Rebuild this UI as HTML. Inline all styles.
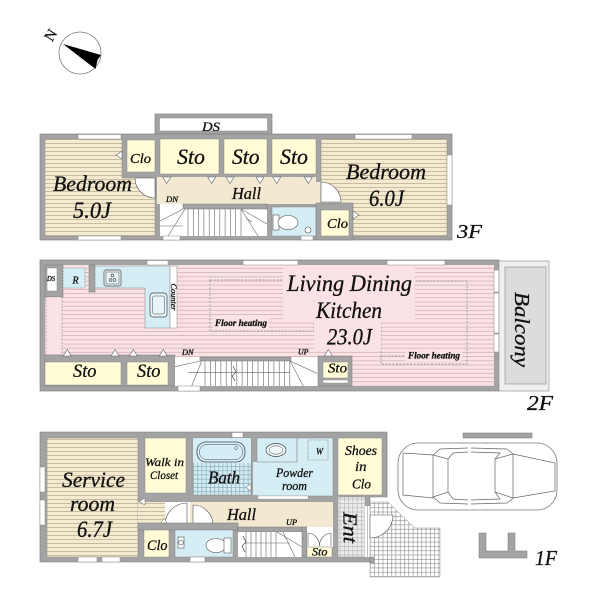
<!DOCTYPE html>
<html><head><meta charset="utf-8">
<style>
html,body{margin:0;padding:0;background:#fff;width:600px;height:600px;overflow:hidden}
svg{display:block}
text{font-family:"Liberation Serif","DejaVu Serif",serif;font-style:italic;fill:#111;stroke:#111;stroke-width:.3px}
</style></head><body>
<svg width="600" height="600" viewBox="0 0 600 600" xmlns="http://www.w3.org/2000/svg">
<defs>
<pattern id="bd" width="8" height="4" patternUnits="userSpaceOnUse"><rect width="8" height="4" fill="#f4eacf"/><rect y="3.2" width="8" height="0.8" fill="#bdb197"/></pattern>
<pattern id="pk" width="8" height="4.2" patternUnits="userSpaceOnUse"><rect width="8" height="4.2" fill="#fbe2e5"/><rect y="3.4" width="8" height="0.8" fill="#d2b3b8"/></pattern>
<pattern id="tl" width="4.2" height="4.2" patternUnits="userSpaceOnUse"><rect width="4.2" height="4.2" fill="#d4edf4"/><path d="M0 .3H4.2M.3 0V4.2" stroke="#7ea3ad" stroke-width=".6"/></pattern>
<pattern id="gr" width="4.3" height="4.3" patternUnits="userSpaceOnUse"><rect width="4.3" height="4.3" fill="#fff"/><path d="M0 .3H4.3M.3 0V4.3" stroke="#8c8c8c" stroke-width=".6"/></pattern>
<pattern id="eg" width="4.3" height="4.3" patternUnits="userSpaceOnUse"><rect width="4.3" height="4.3" fill="#ececec"/><path d="M0 .3H4.3M.3 0V4.3" stroke="#b3b3b3" stroke-width=".6"/></pattern>
</defs>

<!-- Compass -->
<circle cx="80" cy="53" r="21" fill="#fff" stroke="#777" stroke-width=".8"/>
<polygon points="63,44 101,55 97.5,60 95.5,69" fill="#000"/>
<text transform="translate(52,36) rotate(-58)" font-size="15" text-anchor="middle" dominant-baseline="middle" style="font-style:normal">N</text>

<!-- ============ 3F ============ -->
<g fill="#a3a3a3" stroke="#777" stroke-width=".6">
<rect x="155" y="114" width="117" height="24"/>
<rect x="40" y="134" width="412" height="106"/>
</g>
<rect x="159.5" y="118" width="108" height="13" fill="#fff" stroke="#888" stroke-width=".5"/>
<path d="M45,139H122V178H155V236H45Z" fill="url(#bd)" stroke="#888" stroke-width=".5"/>
<g fill="#fffcd6" stroke="#888" stroke-width=".5">
<rect x="127" y="140" width="28" height="32"/>
<rect x="160" y="139" width="59" height="35"/>
<rect x="224" y="139" width="43" height="35"/>
<rect x="272" y="139" width="44" height="35"/>
</g>
<rect x="157" y="177" width="159" height="27" fill="#f3e9d1"/>
<rect x="316" y="182" width="5" height="21" fill="#f3e9d1"/>
<path d="M155,178H135A20,20 0 0 0 155,198Z" fill="#fff" stroke="#555" stroke-width=".6"/>
<rect x="160" y="204" width="107" height="32" fill="#fff"/>
<rect x="183" y="204" width="84" height="5" fill="#a3a3a3" stroke="#777" stroke-width=".5"/>
<g stroke="#666" stroke-width=".6" fill="none">
<path d="M160,221L183,209M168,236L185,209M160,226H183"/>
<path d="M188,209V236M193.3,209V236M198.6,209V236M203.9,209V236M209.2,209V236M214.5,209V236M219.8,209V236M225.1,209V236M230.4,209V236M235.7,209V236M241,209V236"/>
<path d="M241,209L267,224M241,209L258,236M246,218L252,222"/>
</g>
<rect x="272" y="207" width="44" height="29" fill="#d5eef5" stroke="#888" stroke-width=".5"/>
<rect x="273" y="215" width="6" height="15" fill="#fff" stroke="#555" stroke-width=".6"/>
<ellipse cx="288" cy="222.5" rx="10" ry="7" fill="#fff" stroke="#555" stroke-width=".6"/>
<circle cx="308" cy="230" r="3" fill="#fff" stroke="#555" stroke-width=".6"/>
<rect x="321" y="139" width="126" height="97" fill="url(#bd)" stroke="#888" stroke-width=".5"/>
<path d="M321,202V182A20,20 0 0 1 341,202Z" fill="#fff" stroke="#555" stroke-width=".6"/>
<rect x="316" y="203" width="37" height="37" fill="#a3a3a3" stroke="#777" stroke-width=".5"/>
<rect x="321" y="210" width="28" height="26" fill="#fffcd6" stroke="#888" stroke-width=".5"/>
<g fill="#fff" stroke="#666" stroke-width=".6">
<polygon points="162.7,177 170.7,177 166.7,183.5"/>
<polygon points="207.7,177 215.7,177 211.7,183.5"/>
<polygon points="226,177 234,177 230,183.5"/>
<polygon points="256,177 264,177 260,183.5"/>
<polygon points="272.7,177 280.7,177 276.7,183.5"/>
<polygon points="304.3,177 312.3,177 308.3,183.5"/>
<polygon points="122,151 122,159 116,155"/>
<polygon points="353,211 353,219 359,215"/>
</g>
<g fill="#fff" stroke="#8a8a8a" stroke-width=".5">
<rect x="78" y="134.5" width="43" height="4.5"/>
<rect x="78" y="236" width="43" height="4"/>
<rect x="163" y="236" width="17" height="4"/>
<rect x="301" y="236" width="12" height="4"/>
<rect x="355" y="134.5" width="57" height="4.5"/>
<rect x="447" y="155" width="5" height="50"/>
</g>
<text x="202" y="131" font-size="13" textLength="18" lengthAdjust="spacingAndGlyphs">DS</text>
<text x="130" y="163" font-size="14" textLength="21" lengthAdjust="spacingAndGlyphs">Clo</text>
<text x="177" y="164" font-size="22" textLength="28" lengthAdjust="spacingAndGlyphs">Sto</text>
<text x="232" y="164" font-size="22" textLength="27.5" lengthAdjust="spacingAndGlyphs">Sto</text>
<text x="280" y="164" font-size="22" textLength="28" lengthAdjust="spacingAndGlyphs">Sto</text>
<text x="232" y="199" font-size="17" textLength="29" lengthAdjust="spacingAndGlyphs">Hall</text>
<text x="166" y="202" font-size="8" textLength="12" lengthAdjust="spacingAndGlyphs">DN</text>
<text x="53" y="191" font-size="22" textLength="79" lengthAdjust="spacingAndGlyphs">Bedroom</text>
<text x="73" y="218" font-size="23" textLength="38" lengthAdjust="spacingAndGlyphs">5.0J</text>
<text x="346" y="179" font-size="22" textLength="80" lengthAdjust="spacingAndGlyphs">Bedroom</text>
<text x="369" y="206" font-size="23" textLength="35" lengthAdjust="spacingAndGlyphs">6.0J</text>
<text x="327" y="228" font-size="14" textLength="21" lengthAdjust="spacingAndGlyphs">Clo</text>
<text x="457" y="238" font-size="20" textLength="25" lengthAdjust="spacingAndGlyphs">3F</text>

<!-- ============ 2F ============ -->
<rect x="40" y="260" width="459" height="131" fill="#a3a3a3" stroke="#777" stroke-width=".6"/>
<rect x="45" y="265" width="449" height="121" fill="url(#pk)"/>
<g fill="none" stroke="#8a8a8a" stroke-width=".7" stroke-dasharray="2,1.5">
<rect x="210" y="280" width="104" height="51"/>
<rect x="381" y="281" width="86" height="83"/>
</g>
<path d="M283,266H415V322H381V350H314V322H283Z" fill="#fbe2e5"/>
<rect x="213" y="318" width="56" height="10" fill="#fbe2e5"/>
<rect x="405" y="351" width="57" height="10" fill="#fbe2e5"/>
<path d="M381,356H405" stroke="#8a8a8a" stroke-width=".7" stroke-dasharray="2,1.5"/>
<rect x="45" y="265" width="18" height="32" fill="#a3a3a3" stroke="#777" stroke-width=".5"/>
<rect x="47" y="268" width="10" height="23" fill="#fff" stroke="#888" stroke-width=".5"/>
<rect x="89" y="265" width="6" height="27" fill="#a3a3a3" stroke="#777" stroke-width=".5"/>
<rect x="63" y="268" width="22" height="20" fill="#d5eef5" stroke="#777" stroke-width=".6" stroke-dasharray="2,1.2"/>
<path d="M95,266H170V328H145V288H95Z" fill="#d5eef5" stroke="#888" stroke-width=".5"/>
<rect x="170" y="266" width="7" height="62" fill="#fff" stroke="#888" stroke-width=".5"/>
<rect x="104" y="270" width="17" height="16" rx="2" fill="#e8f5f8" stroke="#444" stroke-width=".7"/>
<rect x="106" y="272" width="13" height="12" fill="none" stroke="#444" stroke-width=".5"/>
<g fill="none" stroke="#333" stroke-width=".6"><circle cx="112.5" cy="275.5" r="1.4"/><circle cx="110.5" cy="280" r="1.4"/><circle cx="114.5" cy="280" r="1.4"/></g>
<rect x="150" y="293" width="17" height="24" rx="3" fill="#e8f5f8" stroke="#444" stroke-width=".7"/>
<rect x="152.5" y="296" width="12" height="18" rx="2" fill="none" stroke="#444" stroke-width=".5"/>
<rect x="46" y="297" width="16" height="58" fill="#fbe2e5" stroke="#8a8a8a" stroke-width=".6" stroke-dasharray="2,1.2"/>
<rect x="45" y="355" width="130" height="31" fill="#a3a3a3" stroke="#777" stroke-width=".5"/>
<rect x="45" y="362" width="76" height="23" fill="#fffcd6" stroke="#888" stroke-width=".5"/>
<rect x="127" y="362" width="41" height="23" fill="#fffcd6" stroke="#888" stroke-width=".5"/>
<rect x="175" y="357" width="143" height="29" fill="#fff"/>
<rect x="200" y="357" width="91" height="4" fill="#a3a3a3" stroke="#777" stroke-width=".5"/>
<g stroke="#666" stroke-width=".6" fill="none">
<path d="M175,366.7L200.7,361M191.7,386L201.7,361M188,372.7H290"/>
<path d="M205,361V386M210.3,361V386M215.6,361V386M220.9,361V386M226.2,361V386M231.5,361V386M236.8,361V386M242.1,361V386M247.4,361V386M252.7,361V386M258,361V386M263.3,361V386M268.6,361V386M273.9,361V386M279.2,361V386M284.5,361V386M289.8,361V386"/>
<path d="M290,361L317,373.3M290,361L303.3,386"/>
<path d="M233,366L236,372L232,376L235,381" stroke="#333"/>
</g>
<rect x="318" y="356" width="34" height="30" fill="#a3a3a3" stroke="#777" stroke-width=".5"/>
<rect x="323" y="362" width="25" height="16" fill="#fffcd6" stroke="#888" stroke-width=".5"/>
<rect x="323" y="380" width="25" height="3" fill="#fff" stroke="#888" stroke-width=".4"/>
<g fill="#fff" stroke="#666" stroke-width=".6">
<polygon points="63.3,356 71.3,356 67.3,349.5"/>
<polygon points="111,356 119,356 115,349.5"/>
<polygon points="129.3,356 137.3,356 133.3,349.5"/>
<polygon points="159.3,356 167.3,356 163.3,349.5"/>
<polygon points="324.3,356 332.3,356 328.3,349.5"/>
</g>
<g fill="#fff" stroke="#8a8a8a" stroke-width=".5">
<rect x="147" y="260.5" width="21" height="4.5"/>
<rect x="243" y="260.5" width="55" height="4.5"/>
<rect x="387" y="260.5" width="58" height="4.5"/>
<rect x="494" y="270" width="5" height="22"/>
<rect x="494" y="293" width="5" height="40"/>
<rect x="494" y="334" width="5" height="18"/>
<rect x="178" y="386" width="22" height="5"/>
</g>
<rect x="499" y="261" width="50" height="130" fill="#efefef" stroke="#999" stroke-width=".7"/>
<rect x="505" y="267" width="41" height="117" fill="#dcdcdc" stroke="#999" stroke-width=".7"/>
<text x="47" y="281" font-size="7" textLength="8" lengthAdjust="spacingAndGlyphs">DS</text>
<text x="72.5" y="283.5" font-size="10" textLength="6" lengthAdjust="spacingAndGlyphs">R</text>
<text transform="translate(171,297) rotate(90)" font-size="8" text-anchor="middle" textLength="27" lengthAdjust="spacingAndGlyphs">Counter</text>
<text x="215" y="326" font-size="9" font-weight="bold" textLength="52" lengthAdjust="spacingAndGlyphs">Floor heating</text>
<text x="408" y="358.5" font-size="9" font-weight="bold" textLength="52" lengthAdjust="spacingAndGlyphs">Floor heating</text>
<text x="287" y="291" font-size="23" textLength="125" lengthAdjust="spacingAndGlyphs">Living Dining</text>
<text x="316" y="318" font-size="23" textLength="66" lengthAdjust="spacingAndGlyphs">Kitchen</text>
<text x="327" y="344.5" font-size="23" textLength="45" lengthAdjust="spacingAndGlyphs">23.0J</text>
<text x="328" y="372.5" font-size="14" textLength="19" lengthAdjust="spacingAndGlyphs">Sto</text>
<text x="298" y="354.5" font-size="8" textLength="10.5" lengthAdjust="spacingAndGlyphs">UP</text>
<text x="182" y="355" font-size="8" textLength="11.5" lengthAdjust="spacingAndGlyphs">DN</text>
<text x="73" y="377" font-size="19" textLength="23.5" lengthAdjust="spacingAndGlyphs">Sto</text>
<text x="137" y="377" font-size="19" textLength="23.5" lengthAdjust="spacingAndGlyphs">Sto</text>
<text transform="translate(515,329.5) rotate(90)" font-size="21" text-anchor="middle" textLength="75" lengthAdjust="spacingAndGlyphs">Balcony</text>
<text x="527" y="410" font-size="21" textLength="26" lengthAdjust="spacingAndGlyphs">2F</text>

<!-- ============ 1F ============ -->
<path d="M40,432H387V497H370V562H40Z" fill="#a3a3a3" stroke="#777" stroke-width=".6"/>
<rect x="47" y="438" width="91" height="119" fill="url(#bd)" stroke="#888" stroke-width=".5"/>
<rect x="138" y="502" width="27" height="21" fill="url(#bd)"/>
<rect x="145" y="438" width="41" height="55" fill="#fffcd6" stroke="#888" stroke-width=".5"/>
<rect x="144" y="528" width="25" height="29" fill="#fffcd6" stroke="#888" stroke-width=".5"/>
<rect x="165" y="502" width="25" height="21" fill="#fff"/>
<path d="M187,525V503A22,22 0 0 0 165,525Z" fill="#fff" stroke="#555" stroke-width=".6"/>
<rect x="190" y="502" width="143" height="25" fill="#f3e9d1"/>
<path d="M193,525V505A20,20 0 0 1 213,525Z" fill="#fff" stroke="#555" stroke-width=".6"/>
<rect x="138" y="523" width="100" height="7" fill="#a3a3a3" stroke="#777" stroke-width=".5"/>
<rect x="175" y="530" width="58" height="27" fill="#d5eef5" stroke="#888" stroke-width=".5"/>
<rect x="178" y="537" width="6" height="11" fill="#fff" stroke="#555" stroke-width=".6"/>
<circle cx="181" cy="542.5" r="2.3" fill="none" stroke="#555" stroke-width=".6"/>
<ellipse cx="216" cy="545.5" rx="10" ry="7" fill="#fff" stroke="#555" stroke-width=".6"/>
<rect x="224" y="538" width="7" height="15" fill="#fff" stroke="#555" stroke-width=".6"/>
<rect x="238" y="527" width="64" height="5" fill="#a3a3a3" stroke="#777" stroke-width=".5"/>
<rect x="238" y="532" width="64" height="25" fill="#fff"/>
<g stroke="#666" stroke-width=".6" fill="none">
<path d="M246,532V557M251,532V557M256,532V557M261,532V557M266,532V557M271,532V557M276,532V557"/>
<path d="M277,532L302,547M283,532L295,557M245,543H290"/>
<path d="M243,536L246,542L242,546L245,552" stroke="#333"/>
</g>
<rect x="302" y="527" width="5" height="30" fill="#a3a3a3" stroke="#777" stroke-width=".5"/>
<rect x="307" y="527" width="26" height="20" fill="#fff"/>
<path d="M308,546V533A12,13 0 0 1 319.5,546M331,546V533A12,13 0 0 0 319.5,546" fill="none" stroke="#555" stroke-width=".6"/>
<rect x="307" y="547" width="25" height="10" fill="#fffcd6" stroke="#888" stroke-width=".5"/>
<rect x="193" y="438" width="58" height="57" fill="url(#tl)" stroke="#888" stroke-width=".5"/>
<rect x="193" y="438" width="58" height="25" fill="#d5eef5"/>
<rect x="197" y="442" width="48" height="20" rx="9" fill="#d5eef5" stroke="#445" stroke-width=".8"/>
<rect x="199.5" y="444.5" width="43" height="15" rx="7" fill="none" stroke="#445" stroke-width=".5"/>
<circle cx="236" cy="448" r="1.5" fill="none" stroke="#445" stroke-width=".5"/>
<polygon points="251,484 251,491 246,487.5" fill="#fff" stroke="#666" stroke-width=".5"/>
<rect x="257" y="438" width="76" height="58" fill="#d5eef5" stroke="#888" stroke-width=".5"/>
<rect x="253" y="462" width="5" height="33" fill="#d5eef5"/>
<path d="M257,462H297V438" fill="none" stroke="#777" stroke-width=".6"/>
<ellipse cx="276" cy="450" rx="10" ry="6.5" fill="#eef8fb" stroke="#444" stroke-width=".7"/>
<ellipse cx="276" cy="450" rx="7" ry="4.2" fill="none" stroke="#444" stroke-width=".5"/>
<rect x="308" y="440" width="20" height="20" fill="none" stroke="#777" stroke-width=".6" stroke-dasharray="1.5,1"/>
<rect x="258" y="496" width="50" height="3" fill="#fff" stroke="#999" stroke-width=".3"/>
<rect x="338" y="438" width="44" height="57" fill="#fffcd6" stroke="#888" stroke-width=".5"/>
<rect x="338" y="497" width="27" height="60" fill="url(#eg)" stroke="#999" stroke-width=".5"/>
<rect x="365" y="506" width="5" height="51" fill="#fff"/>
<path d="M367.5,506V557" stroke="#888" stroke-width=".5"/>
<path d="M370,502H388L415,528H440V577H370Z" fill="url(#gr)" stroke="#999" stroke-width=".5"/>
<path d="M370,515H393A23,23 0 0 1 370,538Z" fill="#fff" stroke="#555" stroke-width=".6"/>
<rect x="370" y="557" width="4" height="6" fill="#a3a3a3" stroke="#777" stroke-width=".4"/>
<g fill="#fff" stroke="#8a8a8a" stroke-width=".5">
<rect x="40" y="467" width="5" height="25"/>
<rect x="40" y="500" width="5" height="25"/>
<rect x="78" y="557" width="19" height="5"/>
<rect x="102" y="557" width="18" height="5"/>
<rect x="190" y="557" width="15" height="5"/>
<rect x="232" y="432.5" width="11" height="5"/>
</g>
<polygon points="167,523 161,523 164,518" fill="#fff" stroke="#666" stroke-width=".5"/>
<polygon points="145,498 145,505 139,501.5" fill="#fff" stroke="#666" stroke-width=".5"/>
<!-- Car -->
<rect x="398" y="443" width="159" height="67" rx="20" fill="none" stroke="#777" stroke-width=".8"/>
<g fill="none" stroke="#666" stroke-width=".7">
<path d="M403,453L433,455L433,498L403,495Z"/>
<path d="M433,455L448,459L448,492L433,497"/>
<path d="M433,455L440,449L468,448M471,448L507,449L513,454"/>
<path d="M433,497L440,503L468,504M471,504L507,503L513,498"/>
<path d="M448,459L453,453L468,452M471,452L500,453L495,459"/>
<path d="M448,492L453,499L468,500M471,500L500,499L495,492"/>
<path d="M495,459L513,454L513,498L495,492Z"/>
<path d="M513,454L555,463L555,491L513,498"/>
</g>
<rect x="463" y="433" width="69" height="5" fill="#a3a3a3" stroke="#777" stroke-width=".5"/>
<path d="M479,533H486V551H508V533H515V551H527V558H479Z" fill="#a3a3a3" stroke="#777" stroke-width=".5"/>
<text x="62" y="487" font-size="22" textLength="63" lengthAdjust="spacingAndGlyphs">Service</text>
<text x="70" y="511" font-size="22" textLength="45" lengthAdjust="spacingAndGlyphs">room</text>
<text x="77" y="537" font-size="23" textLength="35" lengthAdjust="spacingAndGlyphs">6.7J</text>
<text x="145" y="466" font-size="12" textLength="39" lengthAdjust="spacingAndGlyphs">Walk in</text>
<text x="150" y="479" font-size="12" textLength="28" lengthAdjust="spacingAndGlyphs">Closet</text>
<text x="147" y="550" font-size="15" textLength="20.5" lengthAdjust="spacingAndGlyphs">Clo</text>
<text x="208" y="483.5" font-size="18" textLength="32" lengthAdjust="spacingAndGlyphs">Bath</text>
<text x="276" y="477" font-size="13" textLength="37" lengthAdjust="spacingAndGlyphs">Powder</text>
<text x="282" y="490" font-size="13" textLength="25" lengthAdjust="spacingAndGlyphs">room</text>
<text x="316" y="454.5" font-size="9" textLength="7" lengthAdjust="spacingAndGlyphs">W</text>
<text x="345" y="455" font-size="14" textLength="32" lengthAdjust="spacingAndGlyphs">Shoes</text>
<text x="355" y="471" font-size="14" textLength="11.5" lengthAdjust="spacingAndGlyphs">in</text>
<text x="352" y="488.5" font-size="14" textLength="19" lengthAdjust="spacingAndGlyphs">Clo</text>
<text x="227" y="520" font-size="17" textLength="29" lengthAdjust="spacingAndGlyphs">Hall</text>
<text x="286" y="525" font-size="8" textLength="11" lengthAdjust="spacingAndGlyphs">UP</text>
<text x="312" y="555.5" font-size="12" textLength="15.5" lengthAdjust="spacingAndGlyphs">Sto</text>
<text transform="translate(343.5,527.5) rotate(90)" font-size="20" text-anchor="middle" textLength="31" lengthAdjust="spacingAndGlyphs">Ent</text>
<text x="535" y="565" font-size="21" textLength="22" lengthAdjust="spacingAndGlyphs">1F</text>
</svg>
</body></html>
